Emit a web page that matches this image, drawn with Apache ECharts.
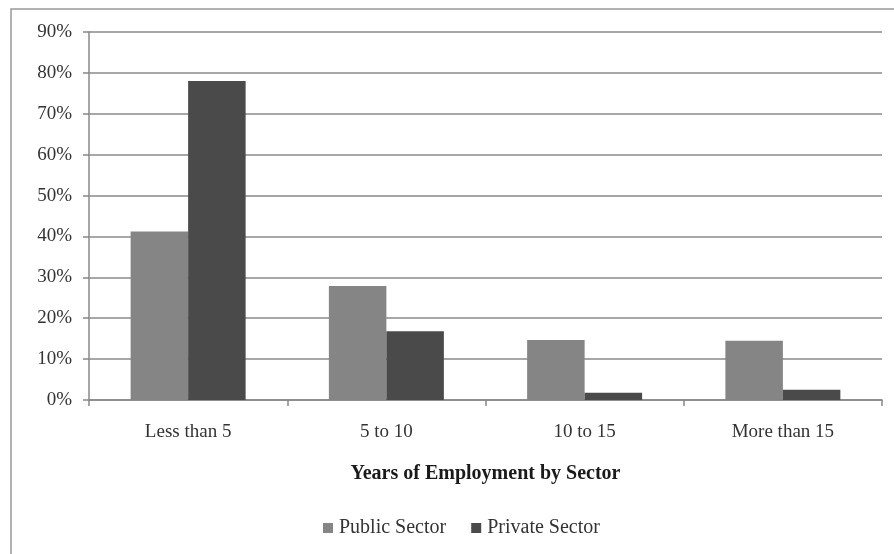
<!DOCTYPE html>
<html>
<head>
<meta charset="utf-8">
<script src="https://cdn.jsdelivr.net/npm/echarts@6/dist/echarts.min.js"></script>
<style>html,body{margin:0;padding:0;background:#fff}#c{width:894px;height:554px}</style>
</head>
<body>
<div id="c"></div>
<script>
const categories = ['Less than 5', '5 to 10', '10 to 15', 'More than 15'];
const publicSector = [41.2, 27.9, 14.7, 14.5];
const privateSector = [78.0, 16.8, 1.8, 2.5];
const yTicks = [0, 10, 20, 30, 40, 50, 60, 70, 80, 90];
const seriesNames = ['Public Sector', 'Private Sector'];

const FONT = '"Liberation Serif", "DejaVu Serif", serif';
const chart = echarts.init(document.getElementById('c'), null, {renderer: 'canvas'});
chart.setOption({
  animation: false,
  backgroundColor: '#fff',
  textStyle: {fontFamily: FONT},
  graphic: [{
    type: 'rect', shape: {x: 11, y: 9, width: 900, height: 560},
    style: {fill: 'none', stroke: '#999', lineWidth: 1.5}, silent: true, z: -1
  }],
  grid: {left: 89, right: 12, top: 32, bottom: 154, containLabel: false},
  legend: {
    data: seriesNames, bottom: 11, left: 318, itemWidth: 10, itemHeight: 10, itemGap: 25,
    icon: 'rect',
    textStyle: {fontFamily: FONT, fontSize: 20, color: '#333', padding: [0, 0, 0, 1]}
  },
  xAxis: {
    type: 'category', data: categories,
    name: 'Years of Employment by Sector', nameLocation: 'middle', nameGap: 64,
    nameTextStyle: {fontFamily: FONT, fontSize: 20, fontWeight: 'bold', color: '#1a1a1a'},
    axisLine: {lineStyle: {color: '#888', width: 1.5}},
    axisTick: {show: true, length: 6, inside: false, lineStyle: {color: '#888', width: 1.5}},
    axisLabel: {fontFamily: FONT, fontSize: 19, color: '#333', margin: 23}
  },
  yAxis: {
    type: 'value', min: yTicks[0], max: yTicks[yTicks.length - 1], interval: 10,
    axisLine: {show: true, lineStyle: {color: '#888', width: 1.5}},
    axisTick: {show: true, length: 6, lineStyle: {color: '#888', width: 1.5}},
    axisLabel: {fontFamily: FONT, fontSize: 19, color: '#333', margin: 17, formatter: v => v + '%'},
    splitLine: {show: true, lineStyle: {color: '#8a8a8a', width: 1.5}}
  },
  series: [
    {name: seriesNames[0], type: 'bar', data: publicSector, barGap: '0%', barCategoryGap: '42%',
     itemStyle: {color: '#858585'}},
    {name: seriesNames[1], type: 'bar', data: privateSector, barGap: '0%', barCategoryGap: '42%',
     itemStyle: {color: '#4a4a4a'}}
  ]
});
</script>
</body>
</html>
